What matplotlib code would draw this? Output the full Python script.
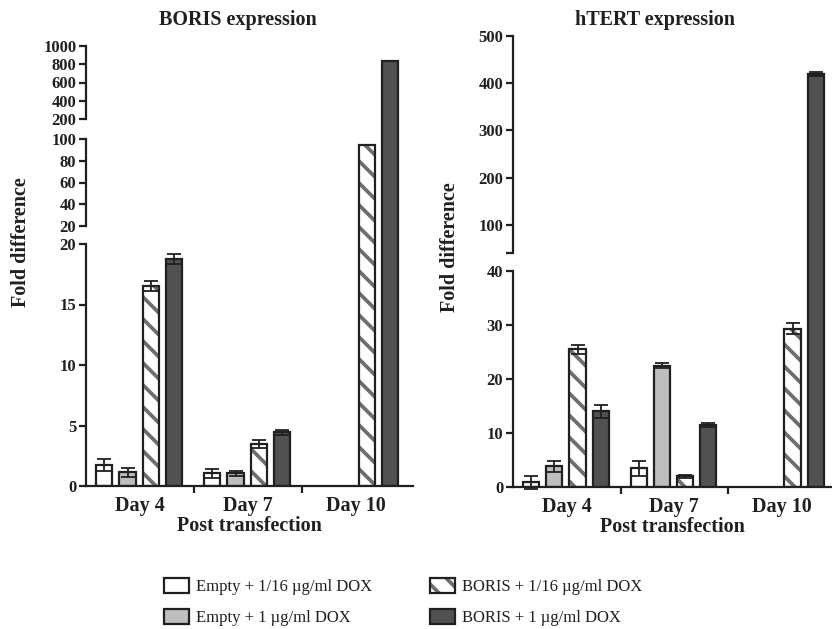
import matplotlib.pyplot as plt
import numpy as np
from matplotlib.patches import Patch

# render at a lower dpi so the single-line hatch gets the wider stripe spacing
DPI = 200 / 3
K = 100 / DPI

plt.rcParams['font.family'] = ['Liberation Serif', 'DejaVu Serif']
plt.rcParams['hatch.linewidth'] = 2.7 * K
EDGE = '#231f20'
LIGHT = '#bcbec0'
DARK = '#505153'
HATCH = '#6d6e70'
plt.rcParams['text.color'] = EDGE
plt.rcParams['xtick.color'] = EDGE
plt.rcParams['ytick.color'] = EDGE
plt.rcParams['axes.labelcolor'] = EDGE

days = ["Day 4", "Day 7", "Day 10"]
labels = ["Empty + 1/16 \u00b5g/ml DOX", "Empty + 1 \u00b5g/ml DOX",
          "BORIS + 1/16 \u00b5g/ml DOX", "BORIS + 1 \u00b5g/ml DOX"]

# BORIS expression (fold difference)
boris_empty_low = [1.74, 1.05, np.nan]
boris_empty_low_err = [0.47, 0.38, np.nan]
boris_empty_high = [1.13, 1.05, np.nan]
boris_empty_high_err = [0.37, 0.20, np.nan]
boris_boris_low = [16.55, 3.47, 94.5]
boris_boris_low_err = [0.40, 0.36, np.nan]
boris_boris_high = [18.76, 4.43, 838.0]
boris_boris_high_err = [0.38, 0.20, np.nan]

# hTERT expression (fold difference)
htert_empty_low = [0.92, 3.5, np.nan]
htert_empty_low_err = [1.2, 1.4, np.nan]
htert_empty_high = [3.8, 22.5, np.nan]
htert_empty_high_err = [1.1, 0.4, np.nan]
htert_boris_low = [25.5, 1.97, 29.35]
htert_boris_low_err = [0.8, 0.25, 0.95]
htert_boris_high = [14.0, 11.5, 420.0]
htert_boris_high_err = [1.2, 0.4, 4.0]

W, H = 832, 629
fig = plt.figure(figsize=(W / DPI, H / DPI), dpi=DPI)

offsets = [-0.33, -0.115, 0.10, 0.315]
bw = 0.15
fills = ['white', LIGHT, 'white', DARK]
LW = 1.6 * K
FS_BIG = 14.5 * K
FS_TICK = 12 * K


def draw_panel(x0, x1, ybot, ytop, catw, segments, series, errs):
    ax = fig.add_axes([x0 / W, (H - ybot) / H, (x1 - x0) / W, (ybot - ytop) / H])
    vals = [-20.0]
    pos = [-20.0 * segments[0][3] / segments[0][1]]
    for lo, hi, p0, p1, _, _ in segments:
        vals += [lo, hi]
        pos += [p0, p1]
    vals = np.array(vals)
    pos = np.array(pos)
    vals_f = vals + np.arange(len(vals)) * 1e-7

    def fwd(v):
        return np.interp(v, vals_f, pos)

    def inv(p):
        return np.interp(p, pos, vals)

    ax.set_yscale('function', functions=(fwd, inv))
    ax.set_ylim(0, segments[-1][1])
    ax.set_xlim(-0.5, (x1 - x0) / catw - 0.5)

    for i in range(4):
        x = np.arange(len(days)) + offsets[i]
        v = np.array(series[i], dtype=float)
        if i == 2:
            ax.bar(x, v, width=bw, color='white', edgecolor=HATCH, hatch='\\', linewidth=0)
            ax.bar(x, v, width=bw, fill=False, edgecolor=EDGE, linewidth=LW)
        else:
            ax.bar(x, v, width=bw, color=fills[i], edgecolor=EDGE, linewidth=LW)
        ax.errorbar(x, v, yerr=errs[i], fmt='none', ecolor=EDGE, elinewidth=1.3 * K,
                    capsize=5 * K, capthick=1.3 * K, clip_on=False)

    for s in ['left', 'top', 'right']:
        ax.spines[s].set_visible(False)
    ax.spines['bottom'].set_linewidth(LW)
    ax.spines['bottom'].set_color(EDGE)
    ax.tick_params(axis='y', which='both', left=False, labelleft=False)
    ax.set_xticks([0.5, 1.5])
    ax.set_xticklabels([])
    ax.set_xticks(range(len(days)), minor=True)
    ax.set_xticklabels(days, minor=True, fontsize=FS_BIG, fontweight='bold')
    ax.tick_params(axis='x', which='major', direction='out', length=5 * K, width=LW)
    ax.tick_params(axis='x', which='minor', length=0, pad=7 * K)
    ax.set_xlabel('Post transfection', fontsize=FS_BIG, fontweight='bold', labelpad=0)

    for lo, hi, p0, p1, ticks, tlabels in segments:
        sax = fig.add_axes([x0 / W, (H - ybot + p0) / H, 1 / W, (p1 - p0) / H])
        sax.patch.set_visible(False)
        for s in ['right', 'top', 'bottom']:
            sax.spines[s].set_visible(False)
        sax.spines['left'].set_linewidth(LW)
        sax.spines['left'].set_color(EDGE)
        sax.set_ylim(lo, hi)
        sax.set_xticks([])
        sax.set_yticks(ticks)
        sax.set_yticklabels(tlabels, fontsize=FS_TICK, fontweight='bold')
        sax.tick_params(axis='y', direction='out', length=5 * K, width=LW, pad=2 * K)
    return ax


draw_panel(86, 413, 486, 46, 108,
           [(0, 20, 0, 242, [0, 5, 10, 15, 20], ['0', '5', '10', '15', '20']),
            (20, 100, 260, 347, [20, 40, 60, 80, 100], ['20', '40', '60', '80', '100']),
            (200, 1000, 367, 440, [200, 400, 600, 800, 1000], ['200', '400', '600', '800', '1000'])],
           [boris_empty_low, boris_empty_high, boris_boris_low, boris_boris_high],
           [boris_empty_low_err, boris_empty_high_err, boris_boris_low_err, boris_boris_high_err])

draw_panel(513, 832, 487, 36, 107.5,
           [(0, 40, 0, 216, [0, 10, 20, 30, 40], ['0', '10', '20', '30', '40']),
            (40, 500, 234, 451, [40, 100, 200, 300, 400, 500], ['', '100', '200', '300', '400', '500'])],
           [htert_empty_low, htert_empty_high, htert_boris_low, htert_boris_high],
           [htert_empty_low_err, htert_empty_high_err, htert_boris_low_err, htert_boris_high_err])

fig.text(238 / W, 1 - 20 / H, 'BORIS expression', ha='center', va='center',
         fontsize=FS_BIG, fontweight='bold')
fig.text(655 / W, 1 - 20 / H, 'hTERT expression', ha='center', va='center',
         fontsize=FS_BIG, fontweight='bold')
fig.text(21 / W, 1 - 242 / H, 'Fold difference', rotation=90, ha='center', va='center',
         fontsize=FS_BIG, fontweight='bold')
fig.text(450 / W, 1 - 247 / H, 'Fold difference', rotation=90, ha='center', va='center',
         fontsize=FS_BIG, fontweight='bold')

handles = [Patch(facecolor='white', edgecolor=EDGE, linewidth=LW),
           Patch(facecolor=LIGHT, edgecolor=EDGE, linewidth=LW),
           (Patch(facecolor='white', edgecolor=HATCH, hatch='\\', linewidth=0),
            Patch(fill=False, edgecolor=EDGE, linewidth=LW)),
           Patch(facecolor=DARK, edgecolor=EDGE, linewidth=LW)]
fig.legend(handles, labels, ncol=2, loc='center', bbox_to_anchor=(403 / W, 1 - 602 / H),
           frameon=False, fontsize=12 * K, handlelength=1.5, handleheight=1.0,
           handletextpad=0.4, columnspacing=3.5, labelspacing=0.85, borderpad=0)

fig.savefig('out.png', dpi=DPI)
